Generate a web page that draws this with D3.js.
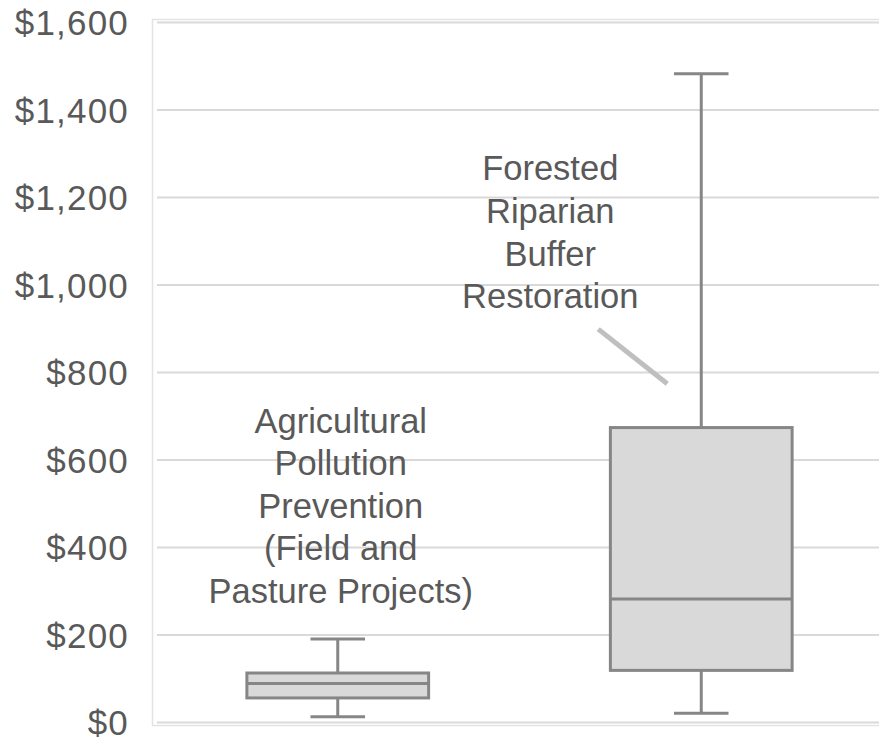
<!DOCTYPE html>
<html>
<head>
<meta charset="utf-8">
<script src="https://cdn.jsdelivr.net/npm/d3@7"></script>
<style>
  html, body { margin: 0; padding: 0; background: #fff; }
  svg { display: block; }
</style>
</head>
<body>
<svg id="chart" width="879" height="741"></svg>
<script>
// ---- data ----
const categories = ["Agricultural Pollution Prevention (Field and Pasture Projects)", "Forested Riparian Buffer Restoration"];
const whiskerLow  = [12, 20];
const q1Values    = [55, 118];
const medians     = [88, 281];
const q3Values    = [112, 673];
const whiskerHigh = [190, 1482];
const yTicks = [0, 200, 400, 600, 800, 1000, 1200, 1400, 1600];
const labelLines = [
  ["Agricultural", "Pollution", "Prevention", "(Field and", "Pasture Projects)"],
  ["Forested", "Riparian", "Buffer", "Restoration"]
];

// ---- layout ----
const W = 879, H = 741;
const svg = d3.select("#chart");
const y = d3.scaleLinear().domain([0, 1600]).range([722, 22]);
const x = d3.scaleBand().domain(categories).range([156, 883]).paddingInner(0.5).paddingOuter(0.25);
const textColor = "#595959";
const boxStroke = "#868686";
const fontFamily = "'Liberation Sans', Arial, sans-serif";

// frame
svg.append("rect")
  .attr("x", 152.5).attr("y", 19.5)
  .attr("width", 760).attr("height", 706)
  .attr("fill", "none").attr("stroke", "#e3e3e3").attr("stroke-width", 1.5);

// gridlines + axis labels
const yAxis = d3.axisLeft(y).tickValues(yTicks)
  .tickSize(-(W - 157))
  .tickFormat(d => "$" + d3.format(",")(d));
const gAxis = svg.append("g").attr("transform", "translate(157,0)").call(yAxis);
gAxis.select(".domain").remove();
gAxis.selectAll(".tick line").attr("stroke", "#d9d9d9").attr("stroke-width", 2);
gAxis.selectAll(".tick text")
  .attr("x", -28).attr("dy", "0.36em")
  .attr("fill", textColor)
  .style("font-family", fontFamily)
  .style("font-size", "35px")
  .style("letter-spacing", "1.2px");

// boxes
const boxes = categories.map((c, i) => ({
  c, lo: whiskerLow[i], q1: q1Values[i], med: medians[i], q3: q3Values[i], hi: whiskerHigh[i]
}));
const g = svg.append("g");
boxes.forEach(b => {
  const x0 = x(b.c), bw = x.bandwidth(), cx = x0 + bw / 2, capW = bw * 0.3;
  // whiskers
  g.append("line").attr("x1", cx).attr("x2", cx).attr("y1", y(b.hi)).attr("y2", y(b.q3))
    .attr("stroke", boxStroke).attr("stroke-width", 3);
  g.append("line").attr("x1", cx).attr("x2", cx).attr("y1", y(b.q1)).attr("y2", y(b.lo))
    .attr("stroke", boxStroke).attr("stroke-width", 3);
  g.append("line").attr("x1", cx - capW / 2).attr("x2", cx + capW / 2).attr("y1", y(b.hi)).attr("y2", y(b.hi))
    .attr("stroke", boxStroke).attr("stroke-width", 3);
  g.append("line").attr("x1", cx - capW / 2).attr("x2", cx + capW / 2).attr("y1", y(b.lo)).attr("y2", y(b.lo))
    .attr("stroke", boxStroke).attr("stroke-width", 3);
  // box
  g.append("rect").attr("x", x0).attr("y", y(b.q3)).attr("width", bw).attr("height", y(b.q1) - y(b.q3))
    .attr("fill", "#d9d9d9").attr("stroke", boxStroke).attr("stroke-width", 3);
  g.append("line").attr("x1", x0).attr("x2", x0 + bw).attr("y1", y(b.med)).attr("y2", y(b.med))
    .attr("stroke", boxStroke).attr("stroke-width", 3);
});

// annotations
const lineH = 42.6;
function drawLabel(lines, cx, lastBaseline) {
  const t = svg.append("text")
    .attr("fill", textColor)
    .attr("text-anchor", "middle")
    .style("font-family", fontFamily)
    .style("font-size", "34.5px");
  lines.forEach((ln, i) => {
    t.append("tspan").attr("x", cx)
      .attr("y", lastBaseline - (lines.length - 1 - i) * lineH)
      .text(ln);
  });
}
const c0 = x(categories[0]) + x.bandwidth() / 2;
const c1 = x(categories[1]) + x.bandwidth() / 2;
drawLabel(labelLines[0], c0 + 3, y(272));
drawLabel(labelLines[1], c1 - 151, y(946));

// leader line
svg.append("line")
  .attr("x1", c1 - 103).attr("y1", y(898))
  .attr("x2", c1 - 34).attr("y2", y(773))
  .attr("stroke", "#bfbfbf").attr("stroke-width", 5);
</script>
</body>
</html>
